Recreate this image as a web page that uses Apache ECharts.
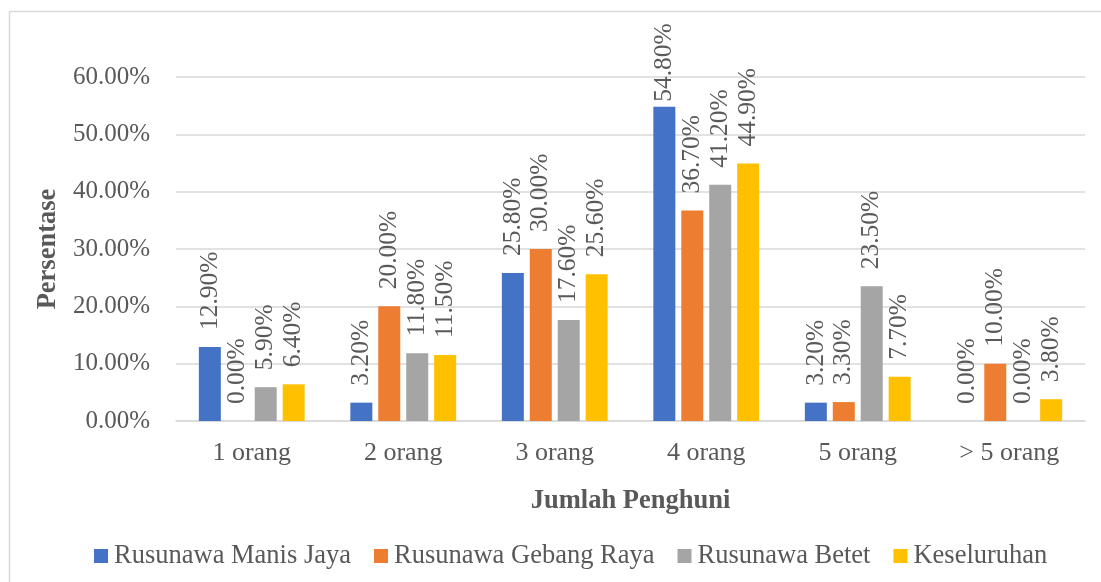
<!DOCTYPE html>
<html>
<head>
<meta charset="utf-8">
<script src="https://cdn.jsdelivr.net/npm/echarts@6/dist/echarts.min.js"></script>
<style>
  html, body { margin: 0; padding: 0; background: #fff; }
  #bar { width: 1101px; height: 582px; }
</style>
</head>
<body>
<div id="bar"></div>
<script>
const categories = ['1 orang', '2 orang', '3 orang', '4 orang', '5 orang', '> 5 orang'];
const seriesNames = ['Rusunawa Manis Jaya', 'Rusunawa Gebang Raya', 'Rusunawa Betet', 'Keseluruhan'];
const manisJaya = [12.9, 3.2, 25.8, 54.8, 3.2, 0.0];
const gebangRaya = [0.0, 20.0, 30.0, 36.7, 3.3, 10.0];
const betet = [5.9, 11.8, 17.6, 41.2, 23.5, 0.0];
const keseluruhan = [6.4, 11.5, 25.6, 44.9, 7.7, 3.8];
const yTicks = [0, 10, 20, 30, 40, 50, 60];

const colors = ['#4472C4', '#ED7D31', '#A5A5A5', '#FFC000'];
const textColor = '#595959';
const font = '"Liberation Serif", "Times New Roman", serif';

function pct(v) {
    return Number(v).toFixed(2) + '%';
}

function makeSeries(name, data, color) {
    return {
        name: name,
        type: 'bar',
        // tall bars: label pushed down so it stays inside the chart area (like Excel)
        data: data.map(v => v > 52 ? { value: v, label: { distance: 5 } } : v),
        barWidth: 22,
        barGap: '27%',
        itemStyle: { color: color },
        label: {
            show: true,
            position: 'top',
            rotate: 90,
            align: 'left',
            verticalAlign: 'middle',
            distance: 17,
            color: textColor,
            fontFamily: font,
            fontSize: 25.5,
            formatter: (p) => pct(p.value)
        }
    };
}

const chart = echarts.init(document.getElementById('bar'));
const option = {
    animation: false,
    textStyle: { fontFamily: font },
    graphic: [{
        type: 'rect',
        shape: { x: 9.5, y: 11.5, width: 1200, height: 700 },
        style: { fill: 'none', stroke: '#d9d9d9', lineWidth: 1.5 },
        silent: true
    }],
    legend: {
        top: 537,
        left: 89,
        itemWidth: 14,
        itemHeight: 14,
        itemGap: 23,
        icon: 'rect',
        textStyle: { color: textColor, fontFamily: font, fontSize: 26.5, lineHeight: 28, padding: [0, 0, 0, 1] },
        data: seriesNames
    },
    grid: { left: 176, right: 16, top: 77, bottom: 161 },
    xAxis: {
        type: 'category',
        data: categories,
        name: 'Jumlah Penghuni',
        nameLocation: 'middle',
        nameGap: 67,
        nameTextStyle: { color: textColor, fontFamily: font, fontSize: 26.5, fontWeight: 'bold' },
        axisLine: { lineStyle: { color: '#d9d9d9', width: 1.5 } },
        axisTick: { show: false },
        axisLabel: { color: textColor, fontFamily: font, fontSize: 26, margin: 19 }
    },
    yAxis: {
        type: 'value',
        min: yTicks[0],
        max: yTicks[yTicks.length - 1],
        interval: 10,
        name: 'Persentase',
        nameLocation: 'middle',
        nameGap: 113,
        nameTextStyle: { color: textColor, fontFamily: font, fontSize: 26.5, fontWeight: 'bold' },
        axisLine: { show: false },
        axisTick: { show: false },
        splitLine: { lineStyle: { color: '#d9d9d9', width: 1.5 } },
        axisLabel: { color: textColor, fontFamily: font, fontSize: 25, margin: 26, formatter: (v) => pct(v) }
    },
    series: [
        makeSeries(seriesNames[0], manisJaya, colors[0]),
        makeSeries(seriesNames[1], gebangRaya, colors[1]),
        makeSeries(seriesNames[2], betet, colors[2]),
        makeSeries(seriesNames[3], keseluruhan, colors[3])
    ]
};
chart.setOption(option);
window.onresize = () => {
    chart.resize();
};
</script>
</body>
</html>
